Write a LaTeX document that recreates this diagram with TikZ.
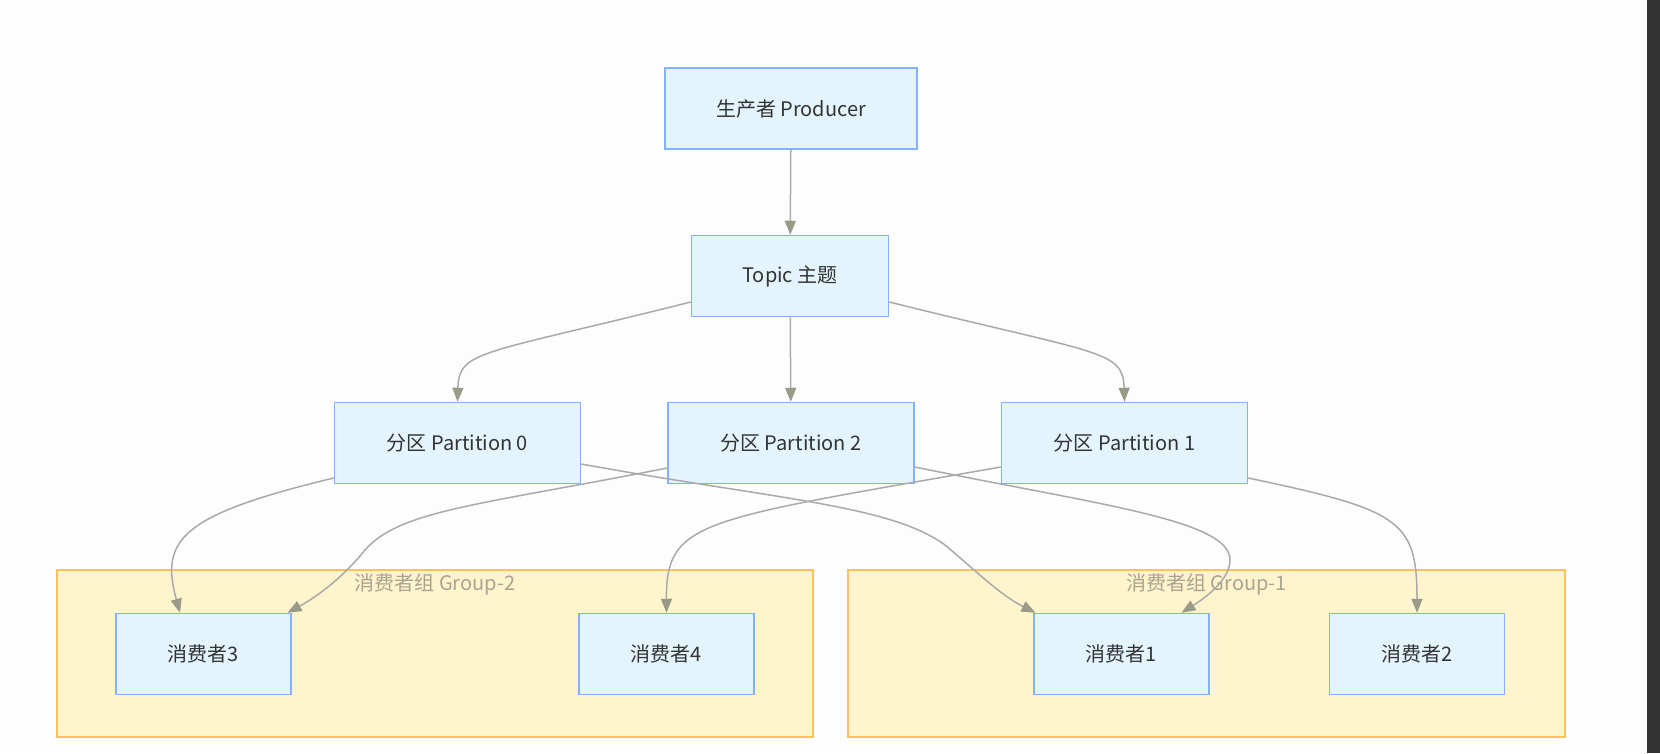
\documentclass[tikz,border=0pt]{standalone}
\usepackage{fontspec}
\newfontfamily\cjk{Noto Sans CJK SC}
\usetikzlibrary{positioning,arrows.meta}
\usepackage{xcolor}
\definecolor{bgwhite}{HTML}{FDFDFD}
\definecolor{boxfill}{HTML}{E3F4FD}
\definecolor{boxline}{HTML}{82B1FF}
\definecolor{grpfill}{HTML}{FFF4CC}
\definecolor{grpline}{HTML}{FFC15A}
\definecolor{grptext}{HTML}{A8A490}
\definecolor{edgegray}{HTML}{AAAAAA}
\definecolor{tipgray}{HTML}{9A9A88}
\definecolor{txtgray}{HTML}{333333}
\definecolor{barback}{HTML}{333333}

\begin{document}
\begin{tikzpicture}[x=1pt,y=-1pt,node distance=86pt]
      \tikzstyle{box}=[draw=boxline,fill=boxfill,line width=1.5pt,minimum height=81pt,align=center,text=txtgray,font=\cjk\fontsize{20}{24}\selectfont]
      \tikzstyle{group}=[draw=grpline,fill=grpfill,line width=1.5pt,inner sep=0pt]
      \tikzstyle{grplabel}=[text=grptext,inner sep=0pt,font=\cjk\fontsize{20}{24}\selectfont]
      \tikzstyle{edge}=[draw=edgegray,line width=1.5pt,-{Triangle[length=14pt,width=11pt,fill=tipgray,color=tipgray]}]
      % page and side bar
      \fill[bgwhite] (0,0) rectangle (1660,753);
      \fill[barback] (1647,0) rectangle (1660,753);
      % consumer groups
      \node[group,minimum width=756pt,minimum height=167pt] (g2) at (435,653.5) {};
      \node[group,minimum width=717pt,minimum height=167pt] (g1) at (1206.5,653.5) {};
      \node[grplabel] (g2t) at ([yshift=-15pt]g2.north) {消费者组 Group-2};
      \node[grplabel] (g1t) at ([yshift=-15pt]g1.north) {消费者组 Group-1};
      % producer, topic, partitions
      \node[box,minimum width=252pt] (prod) at (791,108.5) {生产者 Producer};
      \node[box,minimum width=197pt] (topic) at (790,276) {Topic 主题};
      \node[box,minimum width=246pt] (p2) at (791,443) {分区 Partition 2};
      \node[box,minimum width=246pt,left=of p2] (p0) {分区 Partition 0};
      \node[box,minimum width=246pt,right=of p2] (p1) {分区 Partition 1};
      % consumers
      \node[box,minimum width=175pt] (c3) at (203.5,654) {消费者3};
      \node[box,minimum width=175pt] (c4) at (666.5,654) {消费者4};
      \node[box,minimum width=175pt] (c1) at (1121.5,654) {消费者1};
      \node[box,minimum width=175pt] (c2) at (1417,654) {消费者2};
      % connectors
      \draw[edge] (prod) -- (topic);
      \draw[edge] (topic) -- (p2);
      \draw[edge] ([yshift=-26pt]topic.west) .. controls (480,355) and (459,350) .. (p0.north);
      \draw[edge] ([yshift=-26pt]topic.east) .. controls (1102,355) and (1123,350) .. (p1.north);
      \draw[edge] ([yshift=-35pt]p0.west) .. controls (180,515) and (160,540) .. ([xshift=-23.5pt]c3.north);
      \draw[edge] ([yshift=-21pt]p0.east) .. controls (780,500) and (890,505) .. (945,545) .. controls (975,570) and (1000,595) .. ([xshift=-86pt]c1.north);
      \draw[edge] ([yshift=-25pt]p2.west) .. controls (480,505) and (400,510) .. (365,550) .. controls (345,575) and (320,595) .. ([xshift=84pt]c3.north);
      \draw[edge] ([yshift=-24pt]p2.east) .. controls (1100,505) and (1230,520) .. (1230,560) .. controls (1230,580) and (1205,598) .. ([xshift=60pt]c1.north);
      \draw[edge] ([yshift=-24pt]p1.west) .. controls (700,520) and (666,520) .. (c4.north);
      \draw[edge] ([yshift=-35pt]p1.east) .. controls (1400,510) and (1417,520) .. (c2.north);
\end{tikzpicture}
\end{document}
